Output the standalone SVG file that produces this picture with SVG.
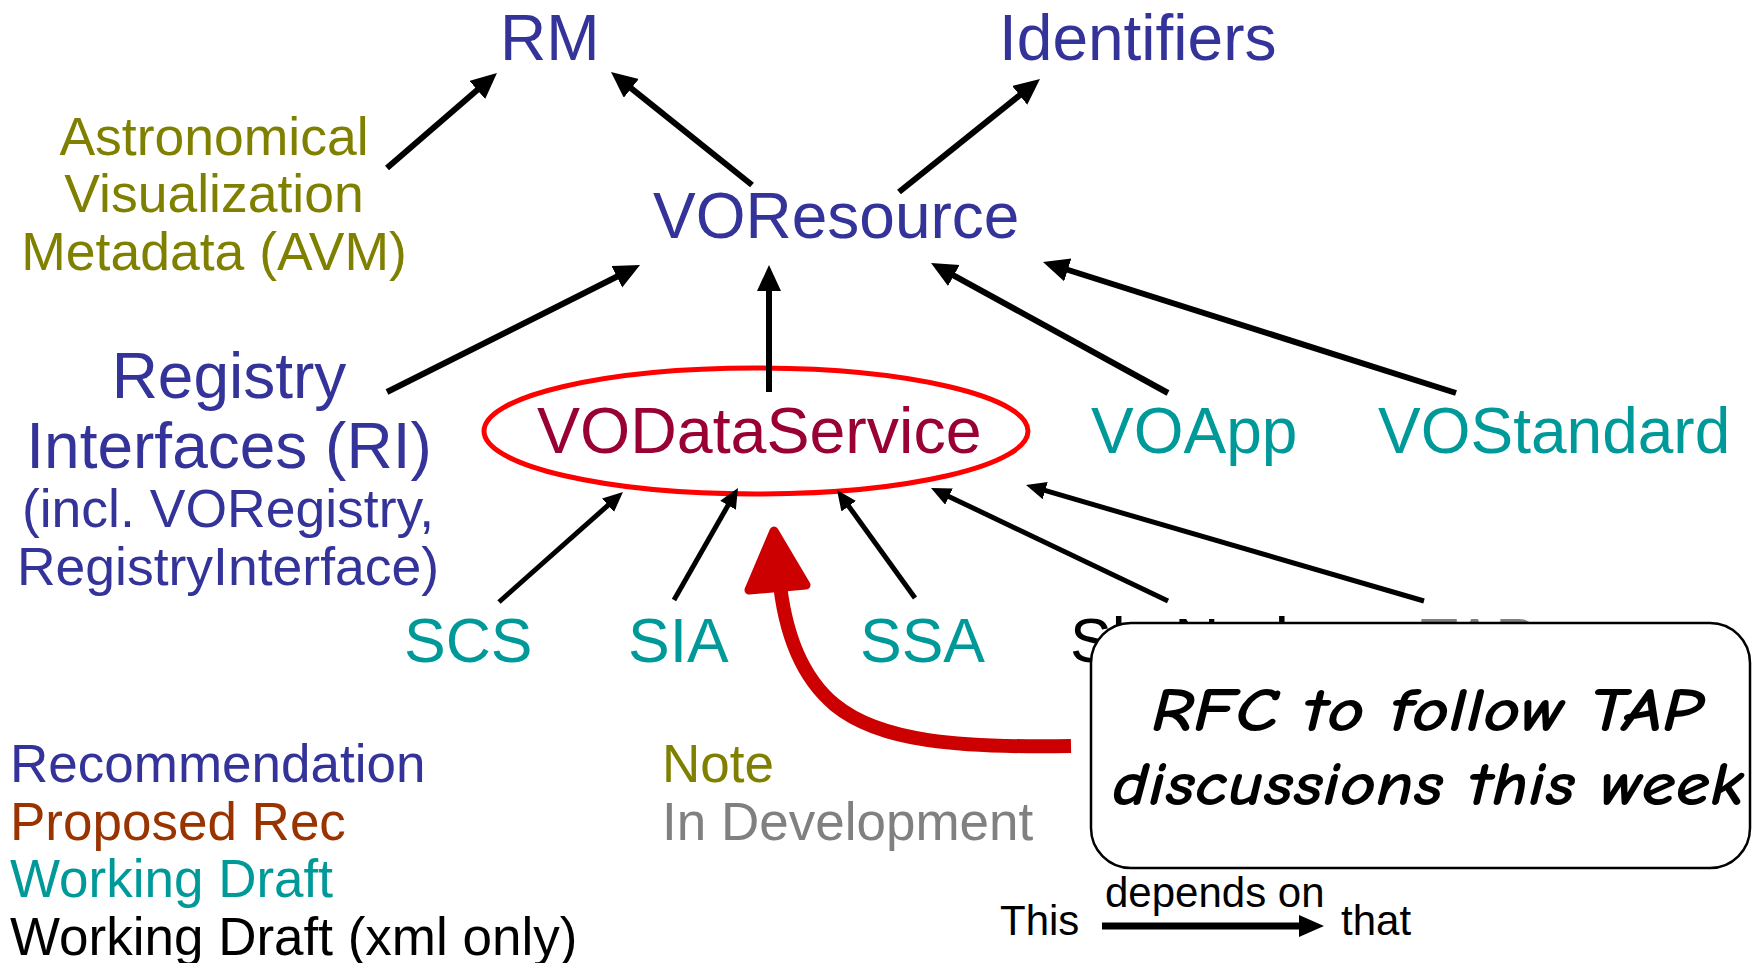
<svg xmlns="http://www.w3.org/2000/svg" width="1754" height="963" viewBox="0 0 1754 963">
<style>
text{font-family:"Liberation Sans",Arial,sans-serif}
.big{font-size:64px}
.mid{font-size:53.5px}
.leg{font-size:53px}
.rec{fill:#333399}
.note{fill:#808000}
.wd{fill:#009999}
.pr{fill:#993300}
.dev{fill:#808080}
.xml{fill:#000}
.up{stroke:#000;stroke-width:6;fill:none;marker-end:url(#hb)}
.lo{stroke:#000;stroke-width:5;fill:none;marker-end:url(#hs)}
.call{font-family:"Comic Sans MS","Comic Neue","Noto Sans",sans-serif;font-style:italic;font-weight:bold;font-size:62px;fill:#000}
</style>
<defs>
<marker id="hb" markerUnits="userSpaceOnUse" markerWidth="27" markerHeight="25" refX="16" refY="12" orient="auto" viewBox="0 0 27 25">
<path d="M0,0 L26,12 L0,24 z" fill="#000"/>
</marker>
<marker id="hs" markerUnits="userSpaceOnUse" markerWidth="21" markerHeight="19" refX="12" refY="9" orient="auto" viewBox="0 0 21 19">
<path d="M0,0 L20,9 L0,18 z" fill="#000"/>
</marker>
</defs>
<rect width="1754" height="963" fill="#fff"/>

<g id="rm"><text class="big rec" x="500" y="60">RM</text></g>
<g id="identifiers"><text class="big rec" x="999" y="60">Identifiers</text></g>
<g id="avm" class="note">
<text class="mid" x="214" y="155" text-anchor="middle">Astronomical</text>
<text class="mid" x="214" y="212" text-anchor="middle">Visualization</text>
<text class="mid" x="214" y="270" text-anchor="middle">Metadata (AVM)</text>
</g>
<g id="voresource"><text class="big rec" x="653" y="238">VOResource</text></g>
<g id="ri" class="rec">
<text class="big" x="229" y="398" text-anchor="middle">Registry</text>
<text class="big" x="229" y="468" text-anchor="middle">Interfaces (RI)</text>
<text class="mid" x="228" y="527" text-anchor="middle">(incl. VORegistry,</text>
<text class="mid" x="228" y="585" text-anchor="middle">RegistryInterface)</text>
</g>
<g id="vodataservice">
<ellipse cx="756" cy="431" rx="272" ry="63" fill="none" stroke="#ff0000" stroke-width="5"/>
<text class="big" x="537" y="453" fill="#990033" style="font-size:64.5px">VODataService</text>
</g>
<g id="voapp"><text class="big wd" x="1091" y="453">VOApp</text></g>
<g id="vostandard"><text class="big wd" x="1378" y="453">VOStandard</text></g>
<g id="scs"><text class="big wd" x="404" y="662" style="font-size:62.5px">SCS</text></g>
<g id="sia"><text class="big wd" x="628" y="662" style="font-size:62.5px">SIA</text></g>
<g id="ssa"><text class="big wd" x="860" y="662" style="font-size:62.5px">SSA</text></g>
<g id="skynode"><text class="big xml" x="1070" y="662" style="font-size:62.5px">SkyNode</text></g>
<g id="tap"><text class="big dev" x="1420" y="662" style="font-size:62.5px">TAP</text></g>

<g id="legend">
<text class="leg rec" x="10" y="782">Recommendation</text>
<text class="leg pr" x="10" y="840">Proposed Rec</text>
<text class="leg wd" x="10" y="897">Working Draft</text>
<text class="leg xml" x="10" y="955">Working Draft (xml only)</text>
<text class="leg note" x="662" y="782">Note</text>
<text class="leg dev" x="662" y="840">In Development</text>
</g>
<g id="key">
<text x="1000" y="935" font-size="42">This</text>
<text x="1105" y="907" font-size="42">depends on</text>
<text x="1341" y="935" font-size="42">that</text>
<line x1="1102" y1="926" x2="1302" y2="926" stroke="#000" stroke-width="7"/>
<polygon points="1299,915 1324,926 1299,937" fill="#000"/>
</g>

<g id="connectors">
<path class="up" d="M387,168 L489.4,79.5"/>
<path class="up" d="M752,185 L618.8,78.3"/>
<path class="up" d="M899,192 L1032.2,85.3"/>
<path class="up" d="M387,392 L631.1,269.5"/>
<path class="up" d="M769,392 L769,275"/>
<path class="up" d="M1168,393 L939.8,267.8"/>
<path class="up" d="M1456,393 L1052.5,265"/>
<path class="lo" d="M499,602 L617,497.3"/>
<path class="lo" d="M674,600 L734,494.9"/>
<path class="lo" d="M915,598 L841.7,496.5"/>
<path class="lo" d="M1168,601 L938.2,491.4"/>
<path class="lo" d="M1424,601 L1033.7,487.2"/>
<g id="rfc-arrow">
<path d="M1071,746 C960,748 880,742 835,705 C795,672 783,620 779,575" fill="none" stroke="#cc0000" stroke-width="14"/>
<polygon points="774,531 749,590 806,585" fill="#cc0000" stroke="#cc0000" stroke-width="9" stroke-linejoin="round"/>
</g>
</g>

<g id="callout">
<rect x="1091" y="623" width="659" height="245" rx="40" ry="40" fill="#fff" stroke="#000" stroke-width="2.5"/>
<text class="call" x="1427" y="731" text-anchor="middle" textLength="551" lengthAdjust="spacingAndGlyphs">RFC to follow TAP</text>
<text class="call" x="1428" y="805" text-anchor="middle" textLength="632" lengthAdjust="spacingAndGlyphs">discussions this week</text>
</g>
</svg>
